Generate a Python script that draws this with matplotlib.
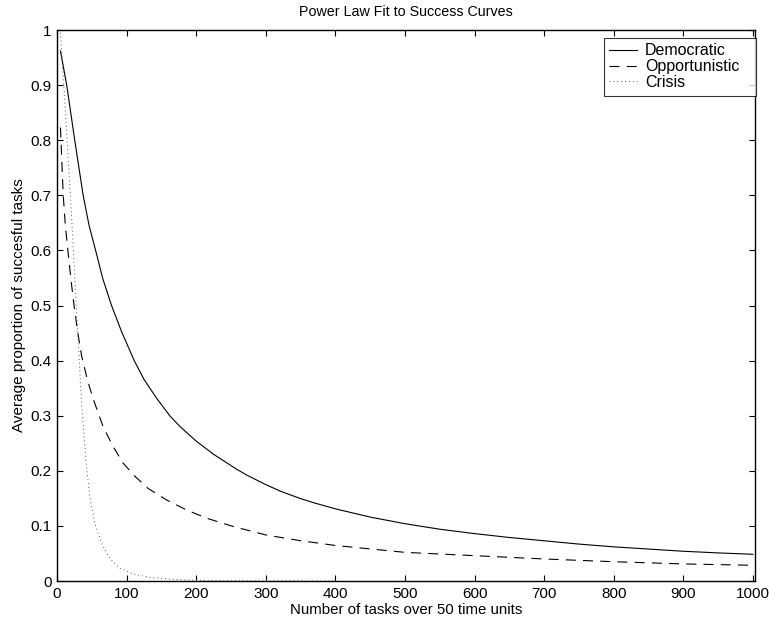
"""
Power law fit to success curves, redrawn in a MATLAB-like style.
"""

import matplotlib
matplotlib.use("Agg")
import matplotlib.pyplot as plt

plt.rcParams["font.family"] = ["Liberation Sans", "DejaVu Sans"]

# Values
democratic_x = [5, 14, 25.5, 37.6, 46, 55.5, 66, 78.4, 93, 111, 125, 143, 162,
                177, 200, 225, 258, 273, 300, 321, 349, 369, 400, 450, 500, 550,
                600, 650, 700, 750, 800, 850, 900, 950, 1000]
democratic_y = [0.962, 0.900, 0.800, 0.700, 0.646, 0.600, 0.548, 0.500, 0.452,
                0.400, 0.366, 0.332, 0.300, 0.280, 0.254, 0.230, 0.203, 0.192,
                0.175, 0.163, 0.150, 0.142, 0.131, 0.116, 0.104, 0.094, 0.086,
                0.079, 0.073, 0.067, 0.062, 0.058, 0.054, 0.051, 0.0485]

opportunistic_x = [5, 7, 9, 12, 16, 20, 24.5, 30, 35.5, 42.4, 47.2, 54.4, 66.3,
                   80.7, 95, 112, 131, 157.6, 186, 215, 253, 300, 349, 400, 500,
                   600, 700, 800, 900, 1000]
opportunistic_y = [0.823, 0.760, 0.700, 0.645, 0.596, 0.548, 0.500, 0.450, 0.408,
                   0.372, 0.350, 0.322, 0.280, 0.244, 0.214, 0.190, 0.168, 0.147,
                   0.129, 0.114, 0.099, 0.0836, 0.0733, 0.0645, 0.052, 0.046,
                   0.040, 0.035, 0.031, 0.0285]

crisis_x = [5, 9.8, 14.5, 18.4, 21.7, 24.6, 28.1, 31.8, 35.2, 38.6, 42.4, 47.2,
            54.4, 64, 76, 90.4, 109.5, 133.5, 167, 200, 250, 300, 400]
crisis_y = [0.995, 0.900, 0.800, 0.720, 0.645, 0.575, 0.490, 0.405, 0.325, 0.2685,
            0.208, 0.153, 0.105, 0.0685, 0.041, 0.023, 0.0127, 0.0067, 0.003,
            0.0012, 0.0005, 0.0002, 0.0001]

x_ticks = list(range(0, 1001, 100))
y_ticks = [0, 0.1, 0.2, 0.3, 0.4, 0.5, 0.6, 0.7, 0.8, 0.9, 1]
y_tick_labels = ["0", "0.1", "0.2", "0.3", "0.4", "0.5", "0.6", "0.7", "0.8",
                 "0.9", "1"]

fig = plt.figure(figsize=(7.69, 6.24), dpi=100)
ax = fig.add_axes([0.0741, 0.0689, 0.9077, 0.883])

ax.plot(democratic_x, democratic_y, color="black", linewidth=0.8,
        linestyle="-", label="Democratic")
ax.plot(opportunistic_x, opportunistic_y, color="black", linewidth=0.8,
        linestyle=(0, (9, 6.5)), label="Opportunistic")
ax.plot(crisis_x, crisis_y, color="#555555", linewidth=0.7,
        linestyle=(0, (1, 3)), label="Crisis")

ax.set_xlim(0, 1003)
ax.set_ylim(0, 1)
ax.set_xticks(x_ticks)
ax.set_yticks(y_ticks)
ax.set_yticklabels(y_tick_labels)
ax.tick_params(direction="in", length=4.5, width=0.8, top=True, right=True,
               labelsize=11, pad=4, colors="black")
for spine in ax.spines.values():
    spine.set_linewidth(1.0)

ax.set_title("Power Law Fit to Success Curves", fontsize=10.3, pad=10)
ax.set_xlabel("Number of tasks over 50 time units", fontsize=10.8, labelpad=2)
ax.set_ylabel("Average proportion of succesful tasks", fontsize=11, labelpad=3)

# legend box stretched to the width of the MATLAB one
leg = ax.legend(loc="upper left", bbox_to_anchor=(0.783, 0.5, 0.219, 0.486),
                mode="expand", fontsize=11.5, frameon=True, fancybox=False,
                handlelength=1.75, handletextpad=0.5, labelspacing=0.05,
                borderpad=0.35, borderaxespad=0)
leg.get_frame().set_edgecolor("black")
leg.get_frame().set_linewidth(0.8)

fig.savefig("out.png", dpi=100)
